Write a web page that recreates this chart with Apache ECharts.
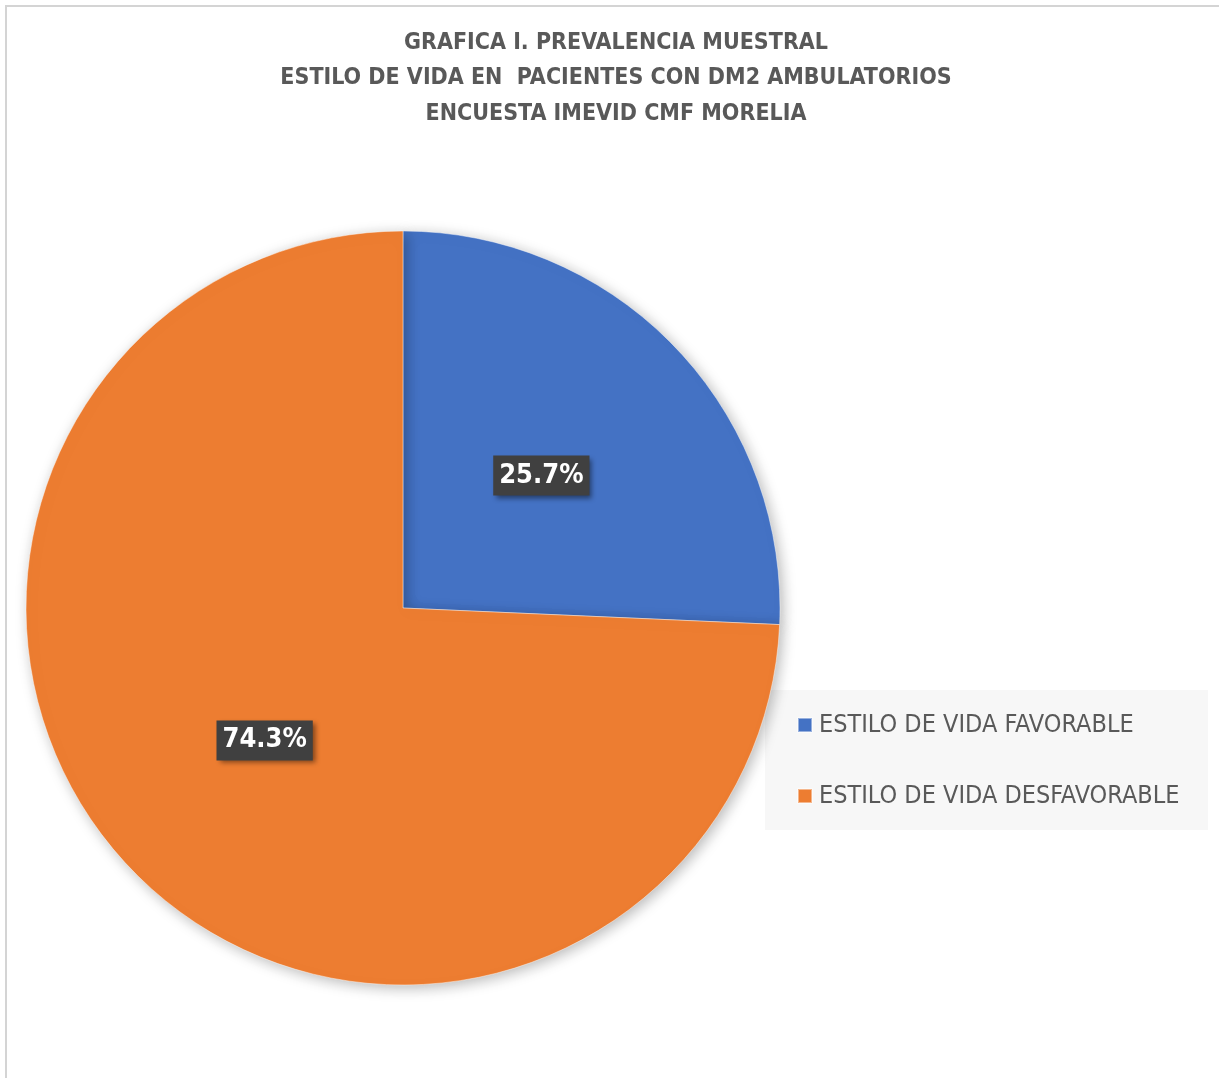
<!DOCTYPE html>
<html>
<head>
<meta charset="utf-8">
<script src="https://cdn.jsdelivr.net/npm/echarts@6/dist/echarts.min.js"></script>
<style>
  html, body { margin: 0; padding: 0; background: #ffffff; }
  #chart { width: 1219px; height: 1078px; }
</style>
</head>
<body>
<div id="chart"></div>
<script>
// Lifestyle categories and their sample prevalence (%)
const categories = ['ESTILO DE VIDA FAVORABLE', 'ESTILO DE VIDA DESFAVORABLE'];
const prevalence = [25.7, 74.3];
const sliceColors = ['#4472C4', '#ED7D31'];

const titleLines = [
  'GRAFICA I. PREVALENCIA MUESTRAL',
  'ESTILO DE VIDA EN  PACIENTES CON DM2 AMBULATORIOS',
  'ENCUESTA IMEVID CMF MORELIA'
];

const FONT = '"Liberation Sans Narrow", "DejaVu Sans Condensed", "Noto Sans", sans-serif';

const chart = echarts.init(document.getElementById('chart'), null, { renderer: 'canvas' });

const pieData = categories.map((name, i) => ({
  name: name,
  value: prevalence[i],
  itemStyle: { color: sliceColors[i] }
}));

chart.setOption({
  backgroundColor: '#ffffff',
  animation: false,
  title: {
    text: titleLines.join('\n'),
    left: 611,
    textAlign: 'center',
    top: 20,
    textStyle: {
      fontFamily: FONT,
      fontSize: 23,
      fontWeight: 'bold',
      color: '#595959',
      lineHeight: 35.5
    }
  },
  graphic: [
    {
      type: 'rect',
      silent: true,
      z: -10,
      shape: { x: 6, y: 6, width: 1400, height: 1400 },
      style: { fill: null, stroke: '#d4d4d4', lineWidth: 2 }
    },
    {
      type: 'rect',
      silent: true,
      z: -5,
      shape: { x: 765, y: 690, width: 443, height: 140 },
      style: { fill: '#f7f7f7' }
    }
  ],
  legend: {
    orient: 'vertical',
    left: 797,
    top: 710,
    padding: 0,
    itemWidth: 14,
    itemHeight: 14,
    itemGap: 41,
    icon: 'rect',
    selectedMode: false,
    data: categories,
    textStyle: {
      fontFamily: FONT,
      fontSize: 25,
      color: '#595959',
      lineHeight: 30,
      padding: [0, 0, 0, 2]
    }
  },
  series: [
    {
      type: 'pie',
      center: [403, 608],
      radius: [0, 377],
      startAngle: 90,
      clockwise: true,
      data: pieData,
      itemStyle: {
        borderColor: 'rgba(255,255,255,0.45)',
        borderWidth: 1,
        shadowBlur: 14,
        shadowColor: 'rgba(0,0,0,0.28)',
        shadowOffsetX: 3,
        shadowOffsetY: 3
      },
      emphasis: { disabled: true },
      labelLine: { show: false },
      label: {
        show: true,
        position: 'inside',
        formatter: (p) => p.value.toFixed(1) + '%',
        fontFamily: FONT,
        fontSize: 27,
        fontWeight: 'bold',
        color: '#ffffff',
        backgroundColor: '#404040',
        padding: [7, 6, 6, 6],
        shadowColor: 'rgba(0,0,0,0.45)',
        shadowBlur: 5,
        shadowOffsetX: 3,
        shadowOffsetY: 3
      }
    }
  ]
});
</script>
</body>
</html>
